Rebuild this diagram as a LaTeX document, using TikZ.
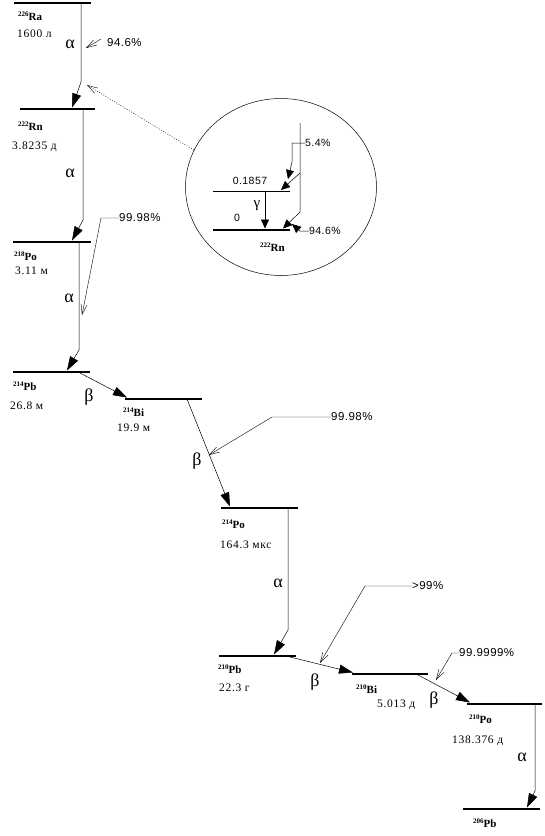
\documentclass[tikz,border=0pt]{standalone}
\usepackage{fontspec}
\setmainfont{Liberation Serif}
\newfontfamily\lifefont[LetterSpace=6]{Liberation Serif}
\newfontfamily\pctfont[LetterSpace=4]{Liberation Sans}
\usetikzlibrary{arrows.meta,positioning,shapes.geometric,calc}
\tikzset{
  level/.style={line width=2.4pt},
  thin level/.style={line width=0.7pt},
  decay/.style={-{Triangle[length=14pt,width=9pt]},line width=0.5pt},
  small decay/.style={-{Triangle[length=9pt,width=8pt]},line width=0.5pt},
  leader/.style={-{Straight Barb[length=10pt,width=6pt]},line width=0.4pt},
  nuc/.style={font=\bfseries\fontsize{11}{12}\selectfont,anchor=west,inner sep=0pt},
  life/.style={font=\lifefont\fontsize{11.5}{12}\selectfont,anchor=west,inner sep=0pt},
  ptype/.style={font=\fontsize{18}{20}\selectfont,inner sep=0pt},
  pct/.style={font=\pctfont\fontsize{11.5}{12}\selectfont,anchor=west,inner sep=0pt},
  inset text/.style={font=\pctfont\fontsize{10.5}{12}\selectfont,anchor=west,inner sep=0pt},
}
\newcommand{\iso}[2]{\raisebox{3.5pt}{\fontsize{7}{7}\selectfont #1}#2}

\begin{document}
\begin{tikzpicture}[x=1pt,y=-1pt]
  \useasboundingbox (0,0) rectangle (545,836);
  % levels
  \foreach \n/\xa/\xb/\y in {ra226/14/91/3, rn222/20/95/109, po218/13/91/242,
    pb214/13/90/372, bi214/125/202/399, po214/221/298/508, pb210/219/296/656,
    bi210/352/428/674, po210/467/542/704, pb206/463/540/809}
  {
    \coordinate (\n-l) at (\xa,\y);
    \coordinate (\n-r) at (\xb,\y);
    \draw[level] (\n-l) -- (\n-r);
  }
  % nuclide names and half-lives
  \node[nuc] (ra226-name) at (18,16) {\iso{226}{Ra}};
  \node[life] (ra226-life) at (17,34) {1600 л};
  \node[nuc] (rn222-name) at (18,126) {\iso{222}{Rn}};
  \node[life] (rn222-life) at (12,147) {3.8235 д};
  \node[nuc] (po218-name) at (14,256) {\iso{218}{Po}};
  \node[life] (po218-life) at (15,271) {3.11 м};
  \node[nuc] (pb214-name) at (13,386) {\iso{214}{Pb}};
  \node[life] (pb214-life) at (10,406) {26.8 м};
  \node[nuc] (bi214-name) at (123,412) {\iso{214}{Bi}};
  \node[life] (bi214-life) at (117,428) {19.9 м};
  \node[nuc] (po214-name) at (222,524) {\iso{214}{Po}};
  \node[life] (po214-life) at (220,545) {164.3 мкс};
  \node[nuc] (pb210-name) at (218,669) {\iso{210}{Pb}};
  \node[life] (pb210-life) at (219,688) {22.3 г};
  \node[nuc] (bi210-name) at (356,689) {\iso{210}{Bi}};
  \node[life] (bi210-life) at (377,705) {5.013 д};
  \node[nuc] (po210-name) at (469,719) {\iso{210}{Po}};
  \node[life] (po210-life) at (452,741) {138.376 д};
  \node[nuc] (pb206-name) at (473,823) {\iso{206}{Pb}};
  % decays
  \foreach \n/\xa/\ya/\xb/\yb/\xc/\yc in {a1/81/3/81/82/72/107.5,
    a2/83/109/83/220/72/240.5, a3/79/242/79/350/67/370.5,
    b1/80/373/80/373/127/397.5, b2/187/399/187/399/230/506.5,
    a4/288/508/288/630/274/654.5, b3/290/657/290/657/353/672.5,
    b4/418/675/418/675/470/702.5, a5/535/704/535/791/527/807.5}
  {
    \coordinate (\n-s) at (\xa,\ya);
    \coordinate (\n-k) at (\xb,\yb);
    \coordinate (\n-t) at (\xc,\yc);
    \draw[decay] (\n-s) -- (\n-k) -- (\n-t);
  }
  \foreach \n/\t/\x/\y in {a1/α/70/44, a2/α/70/173, a3/α/69/298,
    b1/β/89/397, b2/β/197/461, a4/α/278/583, b3/β/315/682,
    b4/β/434/700, a5/α/522/757}
    \node[ptype] (\n-type) at (\x,\y) {\t};
  % branching ratios
  \node[pct] (p1) at (107,43) {94.6\%};
  \node[pct] (p2) at (119,218) {99.98\%};
  \node[pct] (p3) at (331,417) {99.98\%};
  \node[pct] (p4) at (412,586) {>99\%};
  \node[pct] (p5) at (459,653) {99.9999\%};
  \coordinate (p1-s) at (101,39);
  \coordinate (p1-t) at (86,48);
  \coordinate (p2-k) at (101,218);
  \coordinate (p2-t) at (82,315);
  \coordinate (p3-k) at (272,417);
  \coordinate (p3-t) at (209,455);
  \coordinate (p4-k) at (365,586);
  \coordinate (p4-t) at (320,663);
  \coordinate (p5-k) at (452,653);
  \coordinate (p5-t) at (436,680);
  \draw[leader] (p1-s) -- (p1-t);
  \draw[leader] (p2.west) -- (p2-k) -- (p2-t);
  \draw[leader] (p3.west) -- (p3-k) -- (p3-t);
  \draw[leader] (p4.west) -- (p4-k) -- (p4-t);
  \draw[leader] (p5.west) -- (p5-k) -- (p5-t);
  % inset for the radon levels
  \node[draw,ellipse,line width=0.5pt,minimum width=191pt,minimum height=177pt]
    (inset) at (281,187) {};
  \coordinate (inset-t) at (87,85);
  \draw[leader,dash pattern=on 1pt off 1.5pt] (inset.157) -- (inset-t);
  \coordinate (ex-l) at (213,191);
  \coordinate (ex-r) at (290,191);
  \coordinate (gs-l) at (213,230);
  \coordinate (gs-r) at (290,230);
  \draw[thin level] (ex-l) -- (ex-r);
  \draw[level] (gs-l) -- (gs-r);
  \coordinate (feed-s) at (300,123);
  \coordinate (feed-b) at (300,173);
  \coordinate (feed-k) at (300,212);
  \draw[small decay] (feed-s) -- (feed-k) -- (283,228.5);
  \draw[small decay] (feed-b) -- (281,190);
  \draw[small decay] (265,191) -- (265,228.5);
  \node[inset text,anchor=center] (ex-e) at (250,181) {0.1857};
  \node[inset text,anchor=center] (gs-e) at (237,218) {0};
  \node[font=\fontsize{15}{16}\selectfont,inner sep=0pt] (gamma) at (257,206) {γ};
  \node[nuc] (rn222-inset) at (260,247) {\iso{222}{Rn}};
  \node[inset text] (q1) at (305,143) {5.4\%};
  \node[inset text] (q2) at (309,231) {94.6\%};
  \draw[small decay] (q1.west) -- (292,143) -- (292,162) -- (288,179);
  \draw[small decay] (q2.west) -- (300,231) -- (292,224);
\end{tikzpicture}
\end{document}
